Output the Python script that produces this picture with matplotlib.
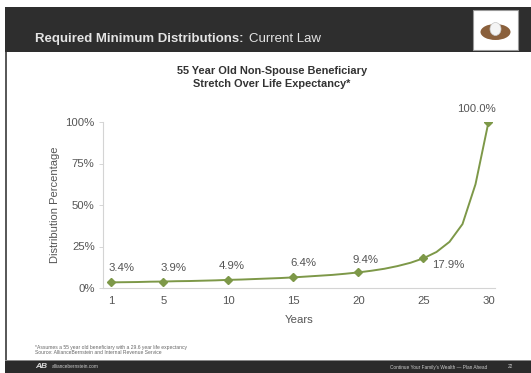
import matplotlib
matplotlib.use("Agg")
import matplotlib.pyplot as plt
from matplotlib.patches import Rectangle, Ellipse

plt.rcParams['font.family'] = ['Liberation Sans', 'DejaVu Sans']

# data
years = list(range(1, 31))
pct = [3.4, 3.5, 3.6, 3.8, 3.9, 4.1, 4.2, 4.4, 4.6, 4.9,
       5.1, 5.4, 5.7, 6.0, 6.4, 6.9, 7.4, 7.9, 8.6, 9.4,
       10.4, 11.6, 13.2, 15.2, 17.9, 21.7, 27.8, 38.5, 62.5, 100.0]
label_years = [1, 5, 10, 15, 20, 25, 30]
label_text = ['3.4%', '3.9%', '4.9%', '6.4%', '9.4%', '17.9%', '100.0%']
xticks = [1, 5, 10, 15, 20, 25, 30]
yticks = [0, 25, 50, 75, 100]

W, H = 531, 373
fig = plt.figure(figsize=(W / 100, H / 100), dpi=100)
fig.patch.set_facecolor('white')


def box(x0, y0, x1, y1, **kw):
    # pixel box -> figure coords
    r = Rectangle((x0 / W, 1 - y1 / H), (x1 - x0) / W, (y1 - y0) / H,
                  transform=fig.transFigure, **kw)
    fig.add_artist(r)
    return r


def ftext(x, y, s, **kw):
    fig.text(x / W, 1 - y / H, s, **kw)


# slide frame
box(5, 7, W, 52, color='#2e2e2e', lw=0)
box(5, 52, 7, 361, color='#5a5a5a', lw=0)
box(5, 360, W, H, color='#2b2b2b', lw=0)
box(5, 359.5, W, 361, color='#8a8a8a', lw=0)

# header text
ftext(35, 39, 'Required Minimum Distributions:', color='#e4e4e4',
      fontsize=9.5, fontweight='bold', va='center')
ftext(249, 39, 'Current Law', color='#e4e4e4', fontsize=9.5, va='center')

# nest logo
box(473, 10, 518, 50, facecolor='white', edgecolor='#9a9a9a', lw=0.8)
fig.add_artist(Ellipse((495.5 / W, 1 - 32 / H), 30 / W, 16 / H,
                       transform=fig.transFigure, color='#8a603c', lw=0))
fig.add_artist(Ellipse((495.5 / W, 1 - 29 / H), 11 / W, 13 / H,
                       transform=fig.transFigure, facecolor='#f4f4f4',
                       edgecolor='#c8c8c8', lw=0.5))

# chart title
ftext(272, 71, '55 Year Old Non-Spouse Beneficiary', ha='center', va='center',
      fontsize=7.9, fontweight='bold', color='#333333')
ftext(272, 84, 'Stretch Over Life Expectancy*', ha='center', va='center',
      fontsize=7.9, fontweight='bold', color='#333333')

# footnote and footer
ftext(35, 347, '*Assumes a 55 year old beneficiary with a 29.6 year life expectancy',
      fontsize=3.6, color='#666666', va='center')
ftext(35, 353, 'Source: AllianceBernstein and Internal Revenue Service',
      fontsize=3.6, color='#666666', va='center')
ftext(35, 367, 'AB', fontsize=6, fontweight='bold', fontstyle='italic',
      color='#dddddd', va='center')
ftext(52, 367, 'alliancebernstein.com', fontsize=3.4, color='#cccccc', va='center')
ftext(390, 367, 'Continue Your Family\u2019s Wealth \u2014 Plan Ahead', fontsize=3.4,
      color='#cccccc', va='center')
ftext(508, 367, '22', fontsize=3.4, color='#cccccc', va='center')

# main chart
ax = fig.add_axes([103 / W, 1 - 288 / H, (495 - 103) / W, (288 - 122) / H])
ax.plot(years, pct, color='#7d9848', lw=1.4, zorder=3)
ax.plot(label_years, [pct[y - 1] for y in label_years], ls='none', marker='D',
        ms=3.6, color='#7d9848', zorder=4)

offsets = {1: (7, 10), 5: (7, 10), 10: (2, 10), 15: (7, 10), 20: (5, 9),
           25: (18, -5), 30: (-9, 9)}
for y, t in zip(label_years, label_text):
    ax.annotate(t, (y, pct[y - 1]), xytext=offsets[y], textcoords='offset points',
                ha='center', va='center', fontsize=8.2, color='#555555',
                annotation_clip=False)

ax.set_xlim(0.35, 30.5)
ax.set_ylim(0, 100)
ax.set_xticks(xticks)
ax.set_yticks(yticks)
ax.set_yticklabels(['%d%%' % v for v in yticks])
ax.tick_params(axis='x', length=0, pad=6, labelsize=8.2, labelcolor='#555555')
ax.tick_params(axis='y', length=3, width=0.6, color='#d0d0d0', pad=3,
               labelsize=8.2, labelcolor='#555555')
for s in ['top', 'right']:
    ax.spines[s].set_visible(False)
for s in ['left', 'bottom']:
    ax.spines[s].set_color('#d4d4d4')
    ax.spines[s].set_linewidth(0.8)
ax.set_xlabel('Years', fontsize=8.2, color='#555555', labelpad=6)
ax.set_ylabel('Distribution Percentage', fontsize=8, color='#555555', labelpad=4)

fig.savefig('out.png', dpi=100)
